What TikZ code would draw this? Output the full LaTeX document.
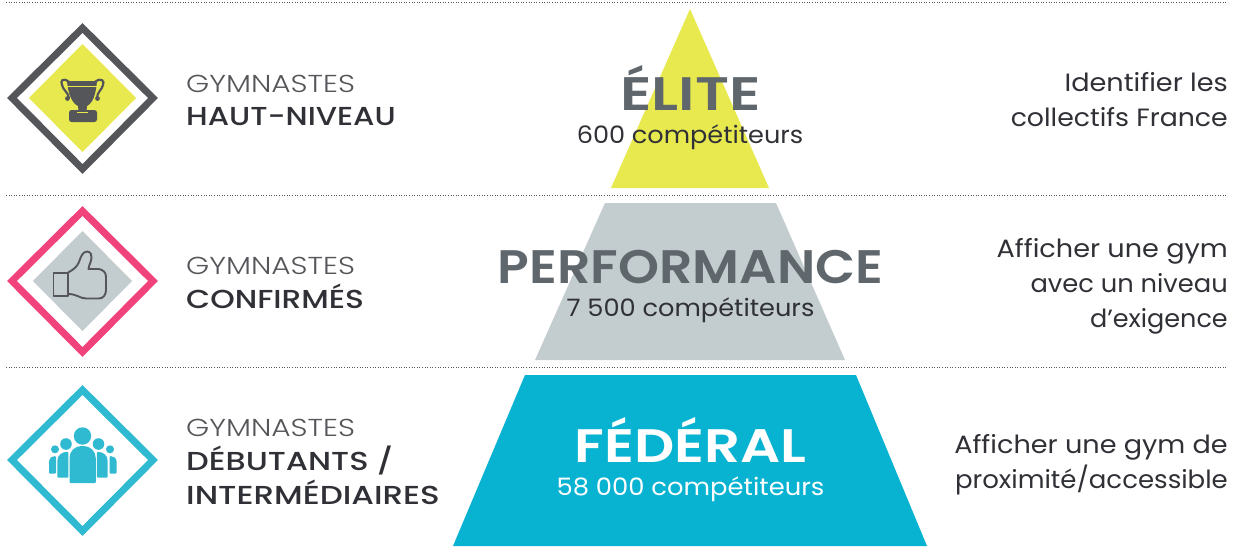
\documentclass[tikz,border=0pt]{standalone}
\usepackage{fontspec}
\setmainfont{Poppins}
\newfontfamily\lightfont[UprightFont=*-Light]{Poppins}
\newfontfamily\medfont[UprightFont=*-Medium]{Poppins}
\newfontfamily\semifont[UprightFont=*-SemiBold]{Poppins}
\newcommand{\sx}[2]{\scalebox{#1}[1]{#2}}
\definecolor{dk}{HTML}{55565A}
\definecolor{ttl}{HTML}{5F666C}
\definecolor{txt}{HTML}{303136}
\definecolor{yel}{HTML}{E8E84F}
\definecolor{gry}{HTML}{C3CCCF}
\definecolor{blu}{HTML}{08B3D2}
\definecolor{tq}{HTML}{2FBAD1}
\definecolor{pnk}{HTML}{F0437C}
\tikzset{
 x=1pt,y=-1pt,
 sep/.style={dk,line width=0.9pt,dash pattern=on 1pt off 1.6pt},
 ring/.style={line width=7pt,miter limit=10},
 lev/.style={anchor=base west,inner sep=0pt,text=dk,font=\fontsize{24.5}{24.5}\lightfont},
 levb/.style={anchor=base west,inner sep=0pt,text=txt,font=\fontsize{26}{26}\medfont},
 obj/.style={anchor=base east,inner sep=0pt,align=right,text=txt,font=\fontsize{25}{34.7}\selectfont},
 big/.style={anchor=base,inner sep=0pt,font=\fontsize{47}{47}\semifont},
 cnt/.style={anchor=base,inner sep=0pt,font=\fontsize{24}{24}\selectfont},
}
\begin{document}
\begin{tikzpicture}
\useasboundingbox (0,0) rectangle (1235,549);
\fill[white] (0,0) rectangle (1235,549);
% separators
\draw[sep] (6,2)--(1228,2);
\draw[sep] (6,195)--(1228,195);
\draw[sep] (6,367)--(1228,367);
% pyramid
\fill[yel] (690,9)--(769,188)--(611,188)--cycle;
\fill[gry] (605,203)--(776,203)--(845,360)--(535,360)--cycle;
\fill[blu] (525,375)--(856,375)--(927,546)--(453,546)--cycle;
% icon 1
\draw[dk,ring] (82.5,28)--(153,98)--(82.5,169)--(12,98)--cycle;
\fill[yel] (82.5,44)--(136,98)--(82.5,152)--(29,98)--cycle;
\begin{scope}[dk]
 \fill (67,81) -- (97,81) .. controls (96,94) and (93,103) .. (87,106) -- (86.5,111) -- (78.5,111) -- (78,106) .. controls (72,103) and (68,94) .. (67,81) -- cycle;
 \draw[line width=2.2pt] (69,82) .. controls (63,77) and (60,81) .. (62,85) .. controls (63,90) and (68,92) .. (69,98);
 \draw[line width=2.2pt] (95,82) .. controls (101,77) and (105,81) .. (103,85) .. controls (102,90) and (97,92) .. (97,98);
 \fill (67.5,98.5) circle (2.4pt);
 \fill (97.5,98.5) circle (2.4pt);
 \fill[rounded corners=2.5pt] (69,110) rectangle (97,122);
 \fill[yel] (77,111.6) rectangle (87.5,113);
 \fill[yel] (66,85.5) rectangle (98,87);
\end{scope}
% icon 2
\draw[pnk,ring] (82.5,211)--(153,281)--(82.5,352)--(12,281)--cycle;
\fill[gry] (82.5,231)--(132,281)--(82.5,331)--(33,281)--cycle;
\draw[dk,line width=1.9pt,line join=round] (53.5,273) rectangle (68,296);
\draw[dk,line width=1.9pt,line join=round] (68,272.5) .. controls (73,270) and (77,267) .. (79,262) .. controls (81,257) and (82,252) .. (87,251.5) .. controls (91,252) and (92,255) .. (91.5,258) .. controls (91,262) and (89,265) .. (88.5,269) -- (99,269) .. controls (103,270) and (106,272) .. (106,277) -- (106,290) .. controls (106,295) and (103,298.5) .. (99,298.5) -- (86,298.5) .. controls (80,298.5) and (77,294) .. (68,294);
% icon 3
\draw[tq,ring] (82.5,390)--(153,460)--(82.5,531)--(12,460)--cycle;
\begin{scope}[tq]
 \fill (82.5,436) circle (8.7pt);
 \fill (66,444) circle (5.8pt);
 \fill (98.5,444) circle (5.8pt);
 \fill (55,449.3) circle (4pt);
 \fill (110,449.3) circle (4pt);
 \fill[rounded corners=1pt] (49,473.5) -- (49,462) .. controls (49,458) and (52,456) .. (56,456) -- (56,473.5) -- cycle;
 \fill[rounded corners=1pt] (116.5,473.5) -- (116.5,462) .. controls (116.5,458) and (113,456) .. (109.5,456) -- (109.5,473.5) -- cycle;
 \fill[rounded corners=1pt] (57.3,477.7) -- (57.3,462) .. controls (57.3,455) and (62,452) .. (68.3,451.7) -- (68.3,477.7) -- cycle;
 \fill[rounded corners=1pt] (107.7,477.7) -- (107.7,462) .. controls (107.7,455) and (103,452) .. (96.8,451.7) -- (96.8,477.7) -- cycle;
 \fill[rounded corners=1pt] (69.5,483) -- (69.5,459) .. controls (69.5,451) and (75,446) .. (82.5,446) .. controls (90,446) and (95.8,451) .. (95.8,459) -- (95.8,483) -- cycle;
\end{scope}
% left labels
\node[lev] (l1a) at (186,92) {\sx{1.21}{GYMNASTES}};
\node[levb] (l1b) at (186,125) {\sx{1.18}{HAUT-NIVEAU}};
\node[lev] (l2a) at (186,274) {\sx{1.21}{GYMNASTES}};
\node[levb] (l2b) at (186,308) {\sx{1.2}{CONFIRMÉS}};
\node[lev] (l3a) at (186,436) {\sx{1.21}{GYMNASTES}};
\node[levb] (l3b) at (186,470) {\sx{1.23}{DÉBUTANTS /}};
\node[levb] (l3c) at (186,504) {\sx{1.25}{INTERMÉDIAIRES}};
% centre labels
\node[big,text=ttl] (t1) at (690.5,110) {\sx{1.255}{ÉLITE}};
\node[cnt,text=txt] (c1) at (690,143) {\sx{1.065}{600 compétiteurs}};
\node[big,text=ttl] (t2) at (690.5,283) {\sx{1.11}{PERFORMANCE}};
\node[cnt,text=txt] (c2) at (690.5,316) {\sx{1.068}{7 500 compétiteurs}};
\node[big,text=white] (t3) at (690.5,462) {\sx{1.195}{FÉDÉRAL}};
\node[cnt,text=white] (c3) at (690.5,495) {\sx{1.075}{58 000 compétiteurs}};
% right labels
\node[obj] (r1) at (1228,126) {\sx{1.085}{Identifier les}\\\sx{1.07}{collectifs France}};
\node[obj] (r2) at (1228,327) {\sx{1.085}{Afficher une gym}\\\sx{1.03}{avec un niveau}\\\sx{1.02}{d’exigence}};
\node[obj] (r3) at (1228,488) {\sx{1.085}{Afficher une gym de}\\\sx{1.04}{proximité/accessible}};
\end{tikzpicture}
\end{document}
